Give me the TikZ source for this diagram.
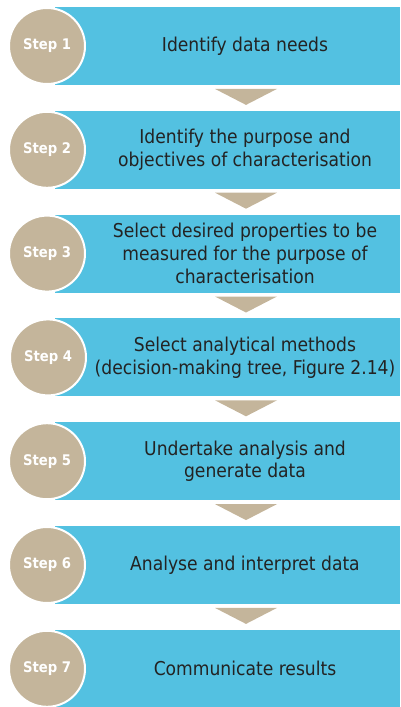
\documentclass[tikz,border=0pt]{standalone}
\usepackage{fontspec}
\setmainfont{DejaVuSansCondensed}[Extension=.ttf, BoldFont=DejaVuSansCondensed-Bold]
\usepackage{tikz}
\usetikzlibrary{calc}
\definecolor{stepblue}{RGB}{83,193,225}
\definecolor{steptan}{RGB}{196,181,155}
\definecolor{textdark}{RGB}{35,35,35}

\begin{document}
\begin{tikzpicture}[
    x=0.75pt, y=-0.75pt,
    bar/.style={fill=stepblue, minimum width=258.75pt, minimum height=58.5pt, inner sep=0pt},
    disc/.style={circle, fill=steptan, draw=white, line width=1.5pt, minimum size=57pt, inner sep=0pt, text=white, font=\bfseries\fontsize{11}{13}\selectfont},
    task/.style={align=center, text=textdark, font=\fontsize{14.3}{17.2}\selectfont},
    down/.style={fill=steptan}
  ]
  \useasboundingbox (0,0) rectangle (400,707);

  % blue bars
  \node[bar] (bar1) at (227.5,46) {};
  \node[bar] (bar2) at (227.5,149.8) {};
  \node[bar] (bar3) at (227.5,253.6) {};
  \node[bar] (bar4) at (227.5,357.4) {};
  \node[bar] (bar5) at (227.5,461.2) {};
  \node[bar] (bar6) at (227.5,565) {};
  \node[bar] (bar7) at (227.5,668.8) {};

  % step discs
  \node[disc] (s1) at (47,46) {Step 1};
  \node[disc] (s2) at (47,149.8) {Step 2};
  \node[disc] (s3) at (47,253.6) {Step 3};
  \node[disc] (s4) at (48,357.4) {Step 4};
  \node[disc] (s5) at (47,461.2) {Step 5};
  \node[disc] (s6) at (47,565) {Step 6};
  \node[disc] (s7) at (47,668.8) {Step 7};

  % texts
  \node[task] (t1) at (245,46) {Identify data needs};
  \node[task] (t2) at (245,149.8) {Identify the purpose and\\objectives of characterisation};
  \node[task] (t3) at (245,253.6) {Select desired properties to be\\measured for the purpose of\\characterisation};
  \node[task] (t4) at (245,357.4) {Select analytical methods\\(decision-making tree, Figure 2.14)};
  \node[task] (t5) at (245,461.2) {Undertake analysis and\\generate data};
  \node[task] (t6) at (245,565) {Analyse and interpret data};
  \node[task] (t7) at (245,668.8) {Communicate results};

  % arrows between the bars
  \coordinate (d1) at ($(bar1.south)!0.5!(bar2.north)+(18.5,-1)$);
  \coordinate (d2) at ($(bar2.south)!0.5!(bar3.north)+(18.5,-1)$);
  \coordinate (d3) at ($(bar3.south)!0.5!(bar4.north)+(18.5,-1)$);
  \coordinate (d4) at ($(bar4.south)!0.5!(bar5.north)+(18.5,-1)$);
  \coordinate (d5) at ($(bar5.south)!0.5!(bar6.north)+(18.5,-1)$);
  \coordinate (d6) at ($(bar6.south)!0.5!(bar7.north)+(18.5,-1)$);
  \fill[down] (d1) ++(-31,-8) -- ++(62,0) -- ++(-31,16) -- cycle;
  \fill[down] (d2) ++(-31,-8) -- ++(62,0) -- ++(-31,16) -- cycle;
  \fill[down] (d3) ++(-31,-8) -- ++(62,0) -- ++(-31,16) -- cycle;
  \fill[down] (d4) ++(-31,-8) -- ++(62,0) -- ++(-31,16) -- cycle;
  \fill[down] (d5) ++(-31,-8) -- ++(62,0) -- ++(-31,16) -- cycle;
  \fill[down] (d6) ++(-31,-8) -- ++(62,0) -- ++(-31,16) -- cycle;
\end{tikzpicture}
\end{document}
